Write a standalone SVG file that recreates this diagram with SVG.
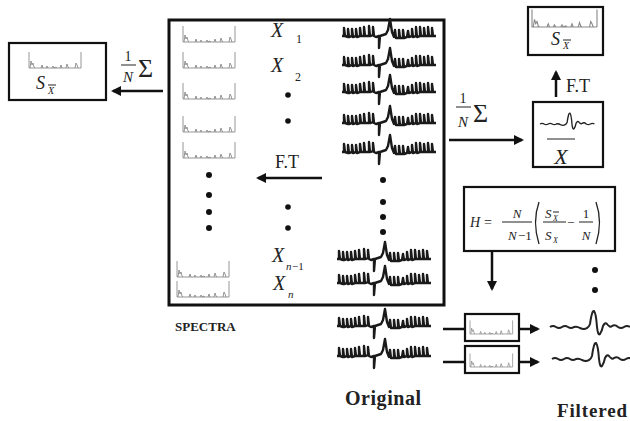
<svg xmlns="http://www.w3.org/2000/svg" width="630" height="421" viewBox="0 0 630 421">
<defs>
<style>
.box{fill:none;stroke:#111;stroke-width:2.2}
.main{fill:none;stroke:#111;stroke-width:3}
.sig{fill:none;stroke:#1a1a1a;stroke-width:2.4;stroke-linejoin:round}
.spec{fill:none;stroke:#8a8a8a;stroke-width:0.9}
.filt{fill:none;stroke:#222;stroke-width:2;stroke-linejoin:round}
.ar{stroke:#111;stroke-width:2.5;fill:none}
.ln{stroke:#222;stroke-width:1;fill:none}
.m{font-family:"Liberation Serif",serif;font-style:italic;fill:#222}
.r{font-family:"Liberation Serif",serif;fill:#222}
.dot{fill:#111}
</style>
<marker id="ah" markerWidth="10" markerHeight="10" refX="8" refY="5" orient="auto" markerUnits="userSpaceOnUse"><path d="M0,0 L10,5 L0,10 z" fill="#111"/></marker>
<path id="spec" class="spec" d="M0,-16 V0 H52 M52,-16 V0 M1,0 L2,-7 L3,-3 L4,-5 L5,-1 L6,0 M12,0 L13,-3 L14,0 M17,0 L18,-2 L19,0 M23,0 L24,-2 L25,0 L27,-1 L28,0 M31,0 L32,-3 L33,0 M37,0 L38,-4 L39,-1 L40,0 M46,0 L47,-5 L48,-3 L49,0"/>
<path id="eeg" class="sig" d="M0,0 L2,0 L2,-8 L3,0 L6,1 L6,-7 L7,1 L10,0 L10,-7 L11,1 L14,0 L14,-7 L15,1 L18,0 L18,-8 L19,0 L22,0 L22,-9 L23,0 L27,0 L27,-10 L28,0 L31,-1 L31,-9 L32,0 L34,1 L37,0 L37,12 L38,0 L41,-1 L44,-2 L46,-6 L48,-17 L50,-4 L52,1 L53,-6 L54,2 L57,2 L57,-6 L58,2 L61,2 L61,-6 L62,2 L65,1 L66,-5 L67,1 L70,0 L70,-7 L71,1 L74,0 L74,-9 L75,1 L78,0 L78,-9 L79,0 L82,0 L82,-8 L83,0 L86,0 L86,-9 L87,0 L90,0 L90,-8 L91,0 L94,0"/>
<path id="filt" class="filt" d="M0,0 Q3,-2 6,0 Q9,2 12,0 Q15,-2 18,0 Q21,2 24,0 Q27,-1 30,1 Q34,3 37,1 Q39,0 40,-3 Q42,-17 44,-16 Q46,-14 47,0 Q48,9 50,7 Q52,4 53,-1 Q55,-5 57,-3 Q60,1 62,-1 Q65,-3 68,0 Q71,2 74,0 Q77,-2 80,0"/>
</defs>

<g id="connectors">
<line class="ar" x1="163" y1="91" x2="113" y2="91" marker-end="url(#ah)"/>
<line class="ar" x1="322" y1="178" x2="258" y2="178" marker-end="url(#ah)"/>
<line class="ar" x1="449" y1="140" x2="522" y2="140" marker-end="url(#ah)"/>
<line class="ar" x1="556" y1="97" x2="556" y2="72" marker-end="url(#ah)"/>
<line class="ar" x1="492" y1="251" x2="492" y2="289" marker-end="url(#ah)"/>
<line class="ar" x1="443" y1="329" x2="465" y2="329"/>
<line class="ar" x1="443" y1="362" x2="465" y2="362"/>
<line class="ar" x1="519" y1="329" x2="538" y2="329" marker-end="url(#ah)"/>
<line class="ar" x1="519" y1="362" x2="538" y2="362" marker-end="url(#ah)"/>
</g>

<g id="sum-left">
<text class="r" x="128" y="61" font-size="14" text-anchor="middle">1</text>
<line class="ln" x1="121" y1="65" x2="136" y2="65"/>
<text class="m" x="128" y="82" font-size="15" text-anchor="middle">N</text>
<text class="r" x="138" y="77" font-size="26">Σ</text>
</g>

<g id="sx-left">
<rect class="box" x="9" y="43" width="97" height="57"/>
<use href="#spec" x="29" y="68"/>
<text class="m" x="36" y="89" font-size="18">S</text>
<text class="m" x="48" y="94" font-size="10">X</text>
<line class="ln" x1="48" y1="85" x2="56" y2="85"/>
</g>

<g id="main">
<rect class="main" x="169" y="20" width="275" height="285"/>
<use href="#spec" x="183" y="42"/>
<use href="#spec" x="183" y="68"/>
<use href="#spec" x="183" y="99"/>
<use href="#spec" x="183" y="132"/>
<use href="#spec" x="183" y="158"/>
<circle class="dot" cx="209" cy="175" r="3"/>
<circle class="dot" cx="209" cy="195" r="3"/>
<circle class="dot" cx="209" cy="212" r="3"/>
<circle class="dot" cx="209" cy="228" r="3"/>
<use href="#spec" x="177" y="277"/>
<use href="#spec" x="177" y="297"/>

<text class="m" x="271" y="37" font-size="20">X</text>
<text class="r" x="296" y="43" font-size="12">1</text>
<text class="m" x="271" y="72" font-size="20">X</text>
<text class="r" x="295" y="81" font-size="12">2</text>
<circle class="dot" cx="288" cy="95" r="2.8"/>
<circle class="dot" cx="288" cy="121" r="2.8"/>
<text class="r" x="275" y="168" font-size="18">F.T</text>
<circle class="dot" cx="288" cy="207" r="2.8"/>
<circle class="dot" cx="288" cy="228" r="2.8"/>
<text class="m" x="272" y="262" font-size="20">X</text>
<text class="m" x="286" y="270" font-size="11">n</text><text class="r" x="292" y="270" font-size="11">−1</text>
<text class="m" x="273" y="290" font-size="20">X</text>
<text class="m" x="288" y="298" font-size="11">n</text>

<use href="#eeg" x="342" y="36"/>
<use href="#eeg" x="342" y="65"/>
<use href="#eeg" x="342" y="92"/>
<use href="#eeg" x="342" y="123"/>
<use href="#eeg" x="342" y="152"/>
<circle class="dot" cx="383" cy="180" r="3"/>
<circle class="dot" cx="383" cy="202" r="3"/>
<circle class="dot" cx="383" cy="217" r="3"/>
<circle class="dot" cx="383" cy="232" r="3"/>
<use href="#eeg" x="337" y="259"/>
<use href="#eeg" x="337" y="283"/>
</g>

<text class="r" x="175" y="331" font-size="13" font-weight="bold" fill="#555">SPECTRA</text>

<g id="sum-right">
<text class="r" x="463" y="103" font-size="14" text-anchor="middle">1</text>
<line class="ln" x1="456" y1="107" x2="471" y2="107"/>
<text class="m" x="463" y="127" font-size="15" text-anchor="middle">N</text>
<text class="r" x="473" y="122" font-size="26">Σ</text>
</g>

<g id="xbar">
<rect class="box" x="533" y="102" width="70" height="65"/>
<use href="#filt" transform="translate(540 124) scale(0.68)"/>
<line class="ln" x1="547" y1="139" x2="575" y2="139" stroke-width="1.2"/>
<text class="m" x="561" y="164" font-size="22" text-anchor="middle">X</text>
</g>

<text class="r" x="566" y="92" font-size="18">F.T</text>

<g id="sx-right">
<rect class="box" x="528" y="7" width="75" height="48"/>
<use href="#spec" transform="translate(532 27) scale(1.25 1.1)"/>
<text class="m" x="551" y="45" font-size="18">S</text>
<text class="m" x="563" y="49" font-size="10">X</text>
<line class="ln" x1="563" y1="40" x2="571" y2="40"/>
</g>

<g id="hfilter">
<rect class="box" x="464" y="187" width="151" height="64"/>
<text class="m" x="470" y="227" font-size="14">H</text>
<text class="r" x="484" y="227" font-size="14">=</text>
<text class="m" x="517" y="218" font-size="13" text-anchor="middle">N</text>
<line class="ln" x1="502" y1="222" x2="532" y2="222"/>
<text class="m" x="508" y="240" font-size="13">N</text><text class="r" x="518" y="240" font-size="13">−1</text>
<path d="M539,202 Q532,222 539,244" fill="none" stroke="#222" stroke-width="1.3"/>
<text class="m" x="545" y="218" font-size="13">S</text>
<text class="m" x="553" y="221" font-size="8">X</text>
<line class="ln" x1="553" y1="212" x2="559" y2="212" stroke-width="0.8"/>
<line class="ln" x1="543" y1="222" x2="566" y2="222"/>
<text class="m" x="545" y="240" font-size="13">S</text>
<text class="m" x="553" y="243" font-size="8">X</text>
<text class="r" x="567" y="227" font-size="13">−</text>
<text class="r" x="586" y="218" font-size="13" text-anchor="middle">1</text>
<line class="ln" x1="579" y1="222" x2="593" y2="222"/>
<text class="m" x="586" y="240" font-size="13" text-anchor="middle">N</text>
<path d="M596,202 Q603,222 596,244" fill="none" stroke="#222" stroke-width="1.3"/>
</g>

<circle class="dot" cx="595" cy="270" r="3"/>
<circle class="dot" cx="595" cy="290" r="3"/>

<g id="orig-bottom">
<use href="#eeg" x="337" y="326"/>
<use href="#eeg" x="337" y="356"/>
</g>

<g id="filter1">
<rect class="box" x="465" y="314" width="54" height="27"/>
<use href="#spec" transform="translate(470 334) scale(0.82 0.85)"/>
</g>
<g id="filter2">
<rect class="box" x="465" y="346" width="54" height="27"/>
<use href="#spec" transform="translate(470 367) scale(0.82 0.85)"/>
</g>

<g id="filtered">
<use href="#filt" x="550" y="327"/>
<use href="#filt" x="552" y="359"/>
</g>

<text class="r" x="345" y="405" font-size="20" font-weight="bold" fill="#444" textLength="76">Original</text>
<text class="r" x="557" y="417" font-size="19" font-weight="bold" fill="#444" textLength="70">Filtered</text>
</svg>
